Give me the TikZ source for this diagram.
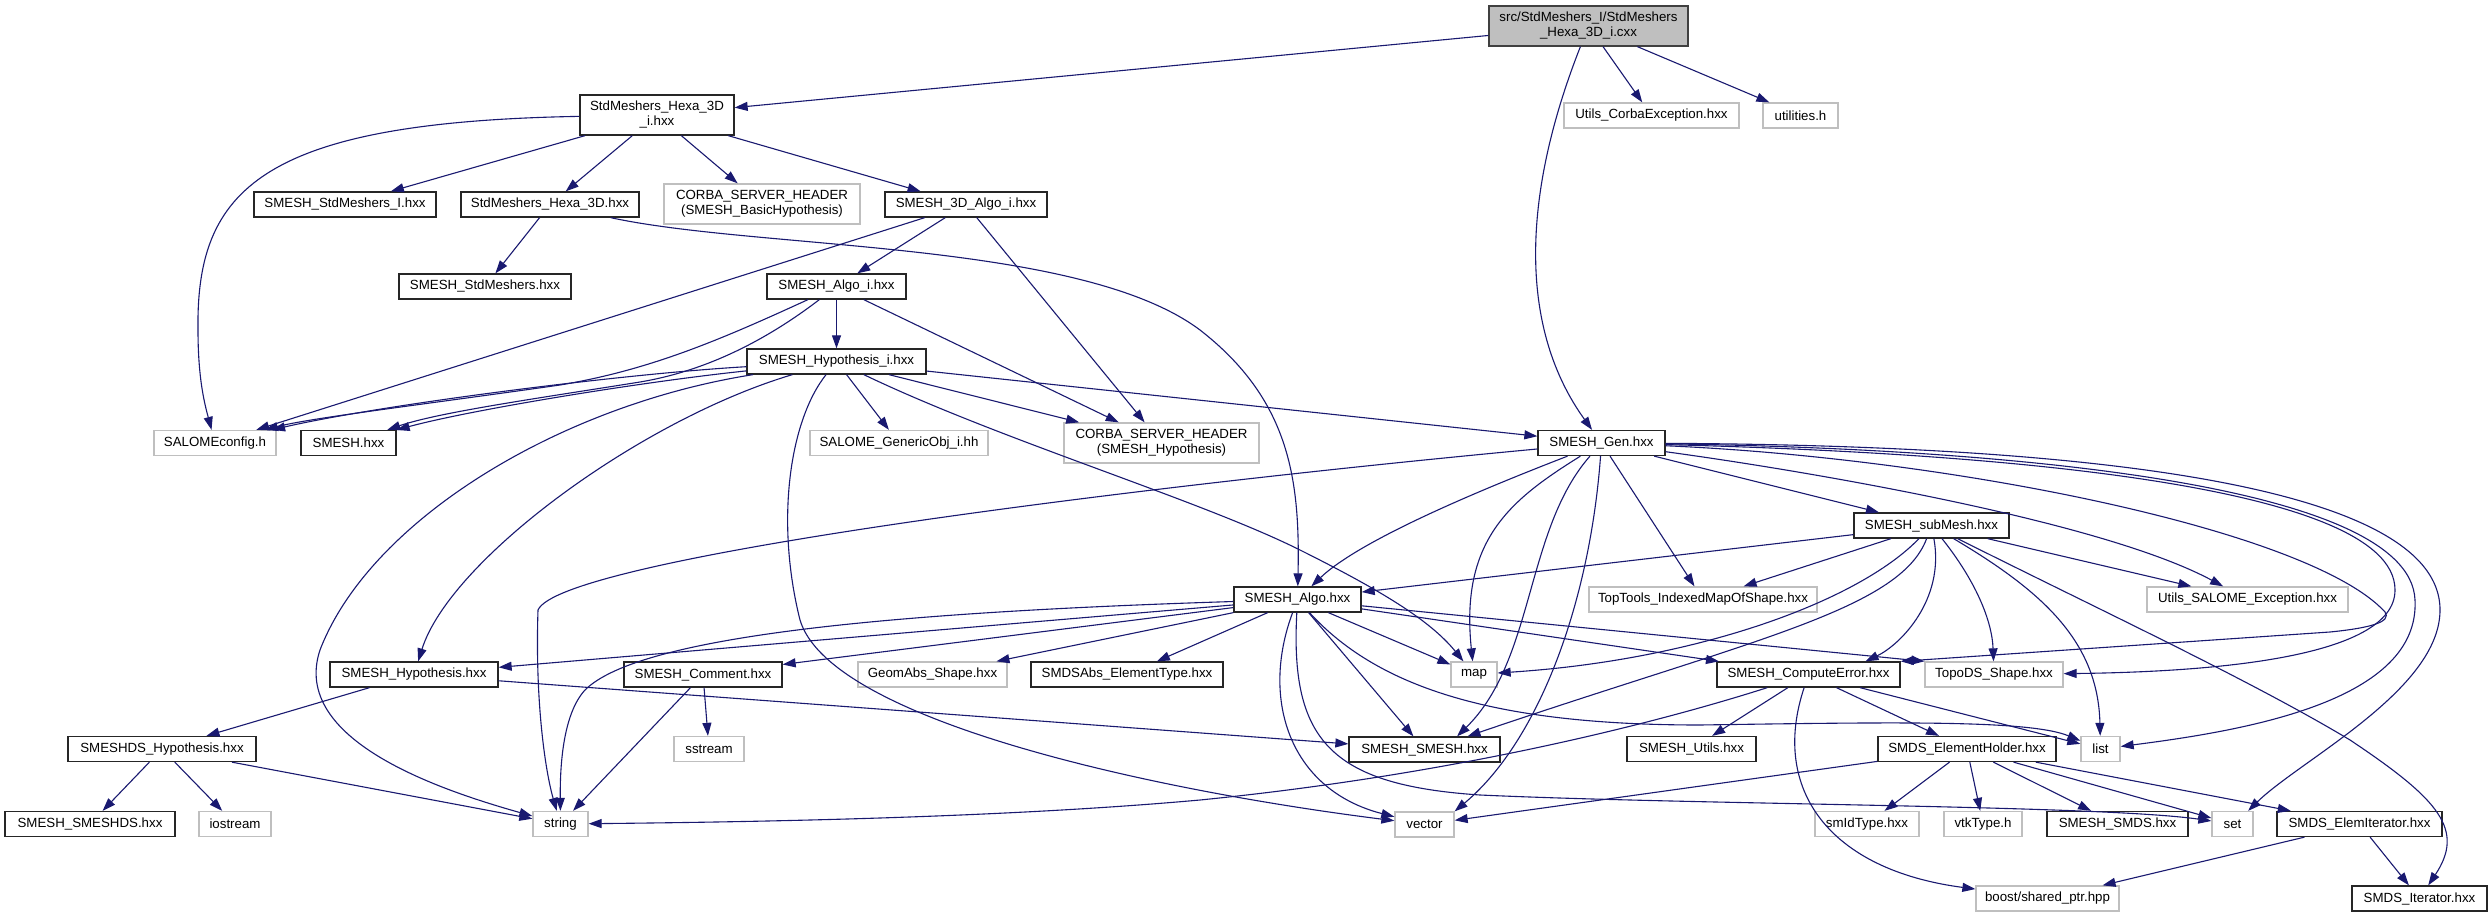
\documentclass[tikz,border=0pt]{standalone}
\usepackage{fontspec}
\setmainfont{Liberation Sans}
\usetikzlibrary{arrows.meta}
\definecolor{edgeblue}{HTML}{191970}
\definecolor{lightgrey}{HTML}{BFBFBF}
\begin{document}
\begin{tikzpicture}[x=1pt,y=-1pt,
  base/.style={rectangle, inner sep=0pt, minimum height=25pt, align=center, font=\fontsize{13.3}{15}\selectfont, line width=1.3pt},
  blk/.style={base, draw=black!85, fill=white},
  gry/.style={base, draw=lightgrey, fill=white},
  rootbox/.style={base, draw=black!75, fill=lightgrey, minimum height=40pt},
  dep/.style={draw=edgeblue, line width=1.1pt, -{Triangle[length=13pt,width=9pt]}}]
\fill[white] (0,0) rectangle (2492,917);
\useasboundingbox (0,0) rectangle (2492,917);

\node[rootbox, minimum width=199pt] (root) at (1588.5,26) {src/StdMeshers\_I/StdMeshers\\\_Hexa\_3D\_i.cxx};
\node[blk, minimum width=154pt, minimum height=40pt] (h3di) at (657,115) {StdMeshers\_Hexa\_3D\\\_i.hxx};
\node[gry, minimum width=175pt] (utilsCorba) at (1651.5,115.5) {Utils\_CorbaException.hxx};
\node[gry, minimum width=75pt] (utilities) at (1800.5,115.5) {utilities.h};
\node[blk, minimum width=182pt] (smeshStdI) at (345,204.5) {SMESH\_StdMeshers\_I.hxx};
\node[blk, minimum width=178pt] (hexa3d) at (550,204.5) {StdMeshers\_Hexa\_3D.hxx};
\node[gry, minimum width=196pt, minimum height=40pt] (corbaBasic) at (762,204) {CORBA\_SERVER\_HEADER\\(SMESH\_BasicHypothesis)};
\node[blk, minimum width=162pt] (algo3di) at (966,204.5) {SMESH\_3D\_Algo\_i.hxx};
\node[blk, minimum width=172pt] (smeshStd) at (485,286.5) {SMESH\_StdMeshers.hxx};
\node[blk, minimum width=139pt] (algoi) at (836.5,286.5) {SMESH\_Algo\_i.hxx};
\node[blk, minimum width=179pt] (hypi) at (836.5,361.5) {SMESH\_Hypothesis\_i.hxx};
\node[gry, minimum width=122pt] (salomecfg) at (215,443) {SALOMEconfig.h};
\node[blk, minimum width=95pt] (smeshhxx) at (348.5,443) {SMESH.hxx};
\node[gry, minimum width=178pt] (genericobj) at (899,443) {SALOME\_GenericObj\_i.hh};
\node[gry, minimum width=195pt, minimum height=40pt] (corbaHyp) at (1161.5,443) {CORBA\_SERVER\_HEADER\\(SMESH\_Hypothesis)};
\node[blk, minimum width=127pt] (gen) at (1601.5,443) {SMESH\_Gen.hxx};
\node[blk, minimum width=155pt] (submesh) at (1931.5,525.5) {SMESH\_subMesh.hxx};
\node[blk, minimum width=127pt] (algo) at (1297.5,599.5) {SMESH\_Algo.hxx};
\node[gry, minimum width=228pt] (toptools) at (1703,599.5) {TopTools\_IndexedMapOfShape.hxx};
\node[gry, minimum width=201pt] (utilsSalome) at (2247.5,599.5) {Utils\_SALOME\_Exception.hxx};
\node[blk, minimum width=168pt] (hyp) at (414,674.5) {SMESH\_Hypothesis.hxx};
\node[blk, minimum width=158pt] (comment) at (703,674.5) {SMESH\_Comment.hxx};
\node[gry, minimum width=149pt] (geomabs) at (932.5,674.5) {GeomAbs\_Shape.hxx};
\node[blk, minimum width=192pt] (smdsabs) at (1127,674.5) {SMDSAbs\_ElementType.hxx};
\node[gry, minimum width=46pt] (map) at (1474,674.5) {map};
\node[blk, minimum width=183pt] (computeError) at (1808.5,674.5) {SMESH\_ComputeError.hxx};
\node[gry, minimum width=138pt] (topods) at (1994,674.5) {TopoDS\_Shape.hxx};
\node[blk, minimum width=188pt] (smeshdsHyp) at (162,749) {SMESHDS\_Hypothesis.hxx};
\node[gry, minimum width=70pt] (sstream) at (709,749) {sstream};
\node[blk, minimum width=151pt] (smeshsmesh) at (1424.5,749.5) {SMESH\_SMESH.hxx};
\node[blk, minimum width=129pt] (utils) at (1691.5,749) {SMESH\_Utils.hxx};
\node[blk, minimum width=178pt] (elemHolder) at (1967,749) {SMDS\_ElementHolder.hxx};
\node[gry, minimum width=39pt] (list) at (2100.5,749) {list};
\node[blk, minimum width=170pt] (smeshdshxx) at (90,824) {SMESH\_SMESHDS.hxx};
\node[gry, minimum width=72pt] (iostream) at (235,824) {iostream};
\node[gry, minimum width=55pt] (string) at (560.5,824) {string};
\node[gry, minimum width=59pt] (vector) at (1424.5,824.5) {vector};
\node[gry, minimum width=104pt] (smidtype) at (1867,824) {smIdType.hxx};
\node[gry, minimum width=78pt] (vtktype) at (1983,824) {vtkType.h};
\node[blk, minimum width=141pt] (smeshsmds) at (2117.5,824) {SMESH\_SMDS.hxx};
\node[gry, minimum width=41pt] (set) at (2232.5,824) {set};
\node[blk, minimum width=165pt] (elemIter) at (2359.5,824) {SMDS\_ElemIterator.hxx};
\node[gry, minimum width=143pt] (boost) at (2047.5,898.5) {boost/shared\_ptr.hpp};
\node[blk, minimum width=135pt] (smdsIter) at (2419.5,898.5) {SMDS\_Iterator.hxx};

% root
\draw[dep] (root) -- (h3di);
\draw[dep] (root) -- (utilsCorba);
\draw[dep] (root) -- (utilities);
\draw[dep] (root) .. controls (1520,200) and (1520,330) .. (gen);
% StdMeshers_Hexa_3D_i.hxx
\draw[dep] (h3di) .. controls (260,122) and (196,190) .. (198,330) .. controls (198,380) and (205,405) .. (salomecfg);
\draw[dep] (h3di) -- (smeshStdI);
\draw[dep] (h3di) -- (hexa3d);
\draw[dep] (h3di) -- (corbaBasic);
\draw[dep] (h3di) -- (algo3di);
% StdMeshers_Hexa_3D.hxx
\draw[dep] (hexa3d) -- (smeshStd);
\draw[dep] (hexa3d) .. controls (760,250) and (1080,240) .. (1200,330) .. controls (1290,400) and (1300,480) .. (algo);
% SMESH_3D_Algo_i.hxx
\draw[dep] (algo3di) -- (salomecfg);
\draw[dep] (algo3di) -- (algoi);
\draw[dep] (algo3di) -- (corbaHyp);
% SMESH_Algo_i.hxx
\draw[dep] (algoi) .. controls (720,340) and (650,370) .. (560,385) .. controls (420,405) and (310,418) .. (salomecfg);
\draw[dep] (algoi) .. controls (760,345) and (700,372) .. (640,382) .. controls (540,398) and (440,412) .. (smeshhxx);
\draw[dep] (algoi) -- (hypi);
\draw[dep] (algoi) -- (corbaHyp);
% SMESH_Hypothesis_i.hxx
\draw[dep] (hypi) .. controls (620,374) and (380,405) .. (salomecfg);
\draw[dep] (hypi) .. controls (640,382) and (470,410) .. (smeshhxx);
\draw[dep] (hypi) -- (genericobj);
\draw[dep] (hypi) -- (corbaHyp);
\draw[dep] (hypi) -- (gen);
\draw[dep] (hypi) .. controls (1000,440) and (1200,500) .. (1300,550) .. controls (1380,590) and (1430,620) .. (map);
\draw[dep] (hypi) .. controls (640,420) and (450,560) .. (hyp);
\draw[dep] (hypi) .. controls (560,405) and (370,520) .. (320,650) .. controls (290,740) and (440,790) .. (string);
\draw[dep] (hypi) .. controls (790,420) and (775,520) .. (800,620) .. controls (830,720) and (1150,790) .. (vector);
% SMESH_Gen.hxx
\draw[dep] (gen) .. controls (1100,490) and (560,560) .. (538,610) .. controls (535,700) and (545,770) .. (string);
\draw[dep] (gen) .. controls (1480,490) and (1360,540) .. (algo);
\draw[dep] (gen) .. controls (1510,500) and (1460,540) .. (map);
\draw[dep] (gen) .. controls (1525,530) and (1535,660) .. (smeshsmesh.22);
\draw[dep] (gen) .. controls (1590,600) and (1540,740) .. (vector.north east);
\draw[dep] (gen) -- (toptools);
\draw[dep] (gen) -- (submesh);
\draw[dep] (gen) .. controls (1800,470) and (2100,520) .. (utilsSalome);
\draw[dep] (gen) .. controls (2000,445) and (2440,470) .. (2440,610) .. controls (2440,690) and (2300,760) .. (set.40);
\draw[dep] (gen) .. controls (1980,448) and (2410,480) .. (2415,600) .. controls (2420,700) and (2250,730) .. (list);
\draw[dep] (gen) .. controls (1960,452) and (2395,480) .. (2395,590) .. controls (2395,660) and (2200,672) .. (topods);
\draw[dep] (gen) .. controls (1950,458) and (2310,530) .. (2385,612) .. controls (2392,622) and (2370,628) .. (2330,632) -- (computeError.north east);
% SMESH_subMesh.hxx
\draw[dep] (submesh) -- (algo);
\draw[dep] (submesh) -- (toptools);
\draw[dep] (submesh) .. controls (1860,600) and (1700,660) .. (map);
\draw[dep] (submesh) .. controls (1900,610) and (1750,640) .. (smeshsmesh.17);
\draw[dep] (submesh) .. controls (1945,600) and (1900,645) .. (computeError.13);
\draw[dep] (submesh) .. controls (1975,580) and (1992,620) .. (topods);
\draw[dep] (submesh) .. controls (2040,590) and (2098,640) .. (list);
\draw[dep] (submesh) .. controls (2100,610) and (2250,680) .. (2350,740) .. controls (2440,800) and (2465,830) .. (smdsIter);
\draw[dep] (submesh) -- (utilsSalome);
% SMESH_Algo.hxx
\draw[dep] (algo) -- (hyp);
\draw[dep] (algo) -- (comment);
\draw[dep] (algo) .. controls (900,612) and (640,635) .. (585,690) .. controls (562,715) and (560,770) .. (string);
\draw[dep] (algo) -- (geomabs);
\draw[dep] (algo) -- (smdsabs);
\draw[dep] (algo) -- (map);
\draw[dep] (algo) -- (smeshsmesh);
\draw[dep] (algo) .. controls (1260,700) and (1290,790) .. (vector);
\draw[dep] (algo) .. controls (1290,740) and (1330,785) .. (1480,795) .. controls (1700,805) and (2100,805) .. (set);
\draw[dep] (algo) .. controls (1380,690) and (1500,725) .. (1700,725) .. controls (1900,722) and (2030,720) .. (list);
\draw[dep] (algo) -- (computeError);
\draw[dep] (algo) -- (topods.north west);
% SMESH_Hypothesis.hxx
\draw[dep] (hyp) -- (smeshdsHyp);
\draw[dep] (hyp) -- (smeshsmesh);
% SMESH_Comment.hxx
\draw[dep] (comment) -- (sstream);
\draw[dep] (comment) -- (string);
% SMESHDS_Hypothesis.hxx
\draw[dep] (smeshdsHyp) -- (smeshdshxx);
\draw[dep] (smeshdsHyp) -- (iostream);
\draw[dep] (smeshdsHyp) -- (string);
% SMESH_ComputeError.hxx
\draw[dep] (computeError) .. controls (1650,725) and (1450,775) .. (1200,800) .. controls (1000,818) and (750,822) .. (string);
\draw[dep] (computeError) -- (utils);
\draw[dep] (computeError) -- (elemHolder);
\draw[dep] (computeError) -- (list);
\draw[dep] (computeError) .. controls (1770,790) and (1830,870) .. (boost);
% SMDS_ElementHolder.hxx
\draw[dep] (elemHolder) -- (vector);
\draw[dep] (elemHolder) -- (smidtype);
\draw[dep] (elemHolder) -- (vtktype);
\draw[dep] (elemHolder) -- (smeshsmds);
\draw[dep] (elemHolder) -- (set);
\draw[dep] (elemHolder) -- (elemIter);
% SMDS_ElemIterator.hxx
\draw[dep] (elemIter) -- (boost);
\draw[dep] (elemIter) -- (smdsIter);
\end{tikzpicture}
\end{document}
